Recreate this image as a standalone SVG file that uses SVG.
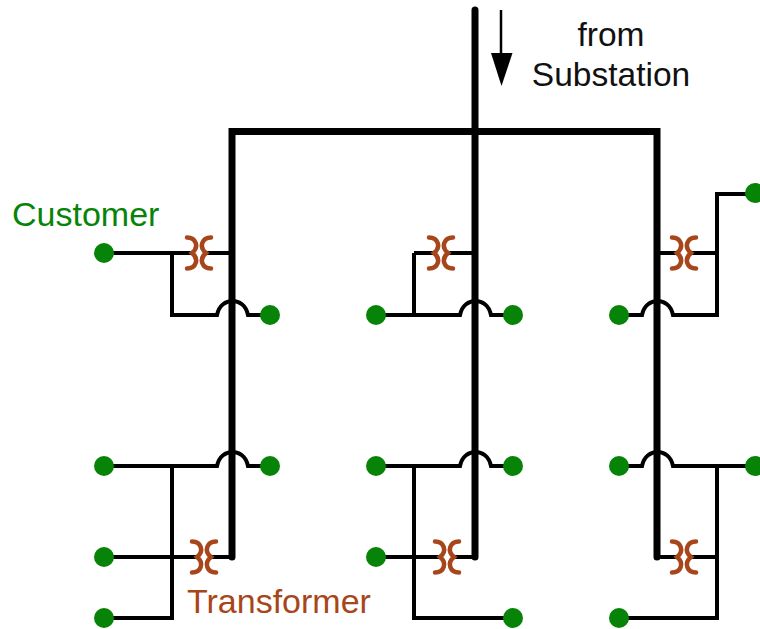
<svg xmlns="http://www.w3.org/2000/svg" width="760" height="629" viewBox="0 0 760 629">
<style>
.t{font-family:"Liberation Sans",Arial,sans-serif;font-size:33.500px}
.u{font-size:34px}
.feeder{fill:none;stroke:#000;stroke-width:7;stroke-linecap:round;stroke-linejoin:miter}
.wire{fill:none;stroke:#000;stroke-width:4;stroke-linejoin:miter}
.dot{fill:#078407}
.coil{fill:none;stroke:#a8461b;stroke-width:4.500;stroke-linecap:round}
</style>
<defs>
<g id="xf"><path class="coil" d="M-12-15.500C-3-15.500 .5-6-7 0C.5 6-3 15.500-12 15.500"/><path class="coil" d="M12-15.500C3-15.500-.5-6 7 0C-.5 6 3 15.500 12 15.500"/></g>
<circle id="d" class="dot" r="10"/>
</defs>
<g id="connectors">
<path class="feeder" d="M475 10V557M232 557V131.500H657V557"/>
<path class="wire" d="M104 253H192M206 253H232M172 253V315H217C219 305 226 301 232.500 301C239 301 246 305 248 315H270"/>
<path class="wire" d="M414 253H434M448 253H475M414 253V315M376 315H460C462 305 469 301 475.500 301C482 301 489 305 491 315H513"/>
<path class="wire" d="M657 253H677M691 253H717M755 194H717V315H673C671 305 664 301 657.500 301C651 301 644 305 642 315H619"/>
<path class="wire" d="M104 466H217C219 456 226 452 232.500 452C239 452 246 456 248 466H270M172 466V618H104M104 557H197M211 557H232"/>
<path class="wire" d="M376 466H460C462 456 469 452 475.500 452C482 452 489 456 491 466H513M414 466V618H513M376 557H440M454 557H475"/>
<path class="wire" d="M619 466H642C644 456 651 452 657.500 452C664 452 671 456 673 466H755M717 466V618H619M657 557H677M691 557H717"/>
<path fill="none" stroke="#000" stroke-width="2.500" d="M501 10V60"/>
<path fill="#000" d="M491 53H512.500L501.500 86Z"/>
</g>
<g id="xf1"><use href="#xf" x="199" y="253"/></g>
<g id="xf2"><use href="#xf" x="441" y="253"/></g>
<g id="xf3"><use href="#xf" x="684" y="253"/></g>
<g id="xf4"><use href="#xf" x="204" y="557"/></g>
<g id="xf5"><use href="#xf" x="447" y="557"/></g>
<g id="xf6"><use href="#xf" x="684" y="557"/></g>
<g id="dots">
<use href="#d" x="104" y="253"/><use href="#d" x="270" y="315"/><use href="#d" x="376" y="315"/><use href="#d" x="513" y="315"/><use href="#d" x="619" y="315"/><use href="#d" x="755" y="193"/>
<use href="#d" x="104" y="466"/><use href="#d" x="270" y="466"/><use href="#d" x="376" y="466"/><use href="#d" x="513" y="466"/><use href="#d" x="619" y="466"/><use href="#d" x="755" y="466"/>
<use href="#d" x="104" y="557"/><use href="#d" x="376" y="557"/><use href="#d" x="104" y="618"/><use href="#d" x="513" y="618"/><use href="#d" x="619" y="618"/>
</g>
<g id="labels">
<text class="t" x="611" y="46" text-anchor="middle" fill="#111">from</text>
<text class="t" x="611" y="86" text-anchor="middle" fill="#111">Substation</text>
<text class="t u" x="12" y="226" fill="#078407">Customer</text>
<text class="t u" x="187" y="613" fill="#a8461b">Transformer</text>
</g>
</svg>
